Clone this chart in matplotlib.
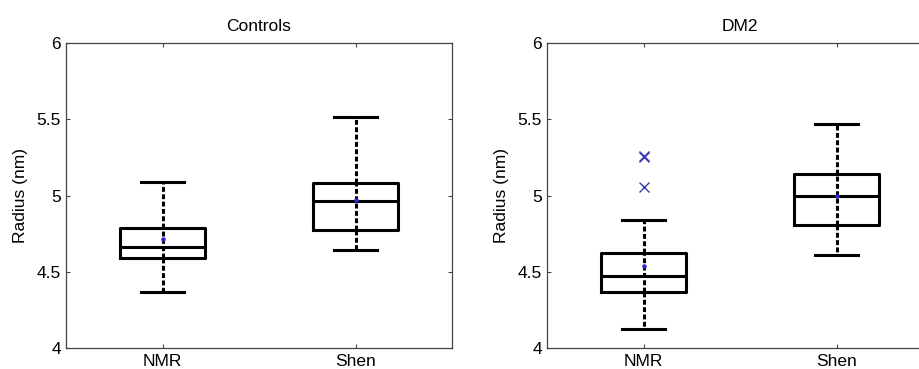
import numpy as np
import matplotlib.pyplot as plt

plt.rcParams['font.family'] = ['Liberation Sans', 'DejaVu Sans']

groups = ['Controls', 'DM2']
methods = ['NMR', 'Shen']

# box statistics (nm), order: NMR, Shen
whis_lo = [[4.367, 4.643], [4.122, 4.612]]
q1 = [[4.592, 4.774], [4.369, 4.809]]
median = [[4.662, 4.964], [4.472, 4.997]]
q3 = [[4.789, 5.080], [4.625, 5.139]]
whis_hi = [[5.087, 5.513], [4.837, 5.471]]
means = [[4.713, 4.970], [4.538, 5.000]]
outliers = [[[], []], [[5.262, 5.255, 5.056], []]]

fig = plt.figure(figsize=(9.2, 3.69), dpi=100)
axes_pos = [[66/920, 21/369, 386/920, 305/369],
            [547/920, 21/369, 386/920, 305/369]]

for g in range(len(groups)):
    ax = fig.add_axes(axes_pos[g])
    stats = []
    for m in range(len(methods)):
        stats.append({'whislo': whis_lo[g][m], 'q1': q1[g][m], 'med': median[g][m],
                      'q3': q3[g][m], 'whishi': whis_hi[g][m],
                      'fliers': outliers[g][m], 'label': methods[m]})
    dash = (0, (1.6, 0.8))
    ax.bxp(stats, positions=[1, 2], widths=0.445, showfliers=True,
           boxprops=dict(color='black', linewidth=2.2),
           medianprops=dict(color='black', linewidth=2.2),
           whiskerprops=dict(color='black', linewidth=2.2, linestyle=dash),
           capprops=dict(color='black', linewidth=2.2),
           capwidths=0.22,
           flierprops=dict(marker='x', markeredgecolor='#3a3ab0', markersize=7,
                           markeredgewidth=1.0, linestyle='none'))
    # matlab draws the whisker line straight through the box
    ax.vlines([1, 2], q1[g], q3[g], colors='black', linewidth=2.2, linestyles=dash)
    ax.plot([1, 2], means[g], '.', color='#2a2ad0', markersize=4.5, zorder=6)
    ax.set_xlim(0.5, 2.5)
    ax.set_ylim(4, 6)
    ax.set_yticks([4, 4.5, 5, 5.5, 6])
    ax.set_yticklabels(['4', '4.5', '5', '5.5', '6'])
    ax.set_xticks([1, 2])
    ax.set_xticklabels(methods)
    ax.tick_params(direction='in', top=True, right=True, labelsize=12.5,
                   colors='#444444', labelcolor='black', length=3, width=0.8)
    ax.tick_params(axis='x', pad=4)
    for s in ax.spines.values():
        s.set_color('#444444')
        s.set_linewidth(0.9)
    ax.set_ylabel('Radius (nm)', fontsize=12.5, labelpad=6)
    ax.set_title(groups[g], fontsize=12.5, pad=9)

fig.savefig('out.png', dpi=100)
